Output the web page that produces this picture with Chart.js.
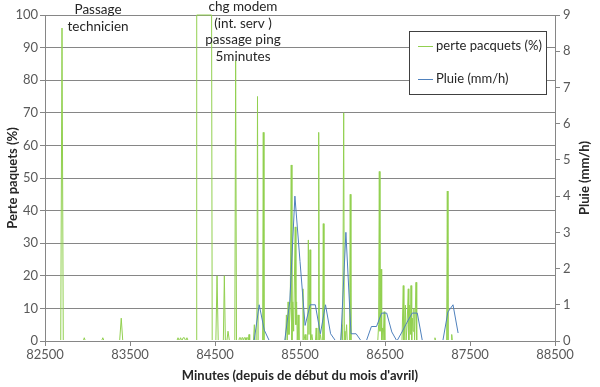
<!DOCTYPE html>
<html>
<head>
<meta charset="utf-8">
<script src="https://cdn.jsdelivr.net/npm/chart.js@4.4.0/dist/chart.umd.min.js"></script>
<style>
html,body{margin:0;padding:0;background:#fff;}
#wrap{width:600px;height:387px;position:relative;}
</style>
</head>
<body>
<div id="wrap"><canvas id="c" width="600" height="387"></canvas></div>
<script>
// ---- data ----
const xTickValues = [82500, 83500, 84500, 85500, 86500, 87500, 88500];

const lossMinutes = [
  82560,
  82685, 82700, 82715,
  82950, 82962, 82975,
  83165, 83180, 83195,
  83378, 83397, 83415,
  84050, 84065, 84080, 84095, 84110, 84125, 84140, 84155, 84170, 84185,
  84278, 84285, 84460, 84467,
  84510, 84524, 84538,
  84598, 84610, 84622,
  84640, 84653, 84670,
  84733, 84743, 84753,
  84780, 84788, 84800, 84808, 84816, 84828, 84836, 84844, 84856, 84864, 84872, 84884, 84892, 84900, 84908,
  84952, 84963, 84972,
  84992, 85000, 85008,
  85060, 85068, 85076,
  85330, 85340, 85350, 85360, 85370, 85385, 85397, 85405, 85415, 85425, 85435, 85444, 85452, 85460, 85468, 85478, 85488,
  85525, 85535, 85545, 85560, 85570,
  85590, 85598, 85606, 85618, 85626, 85640, 85650,
  85682, 85690, 85698,
  85712, 85720, 85728, 85740, 85750,
  85766, 85774, 85782,
  85980, 85994, 86002, 86014, 86022, 86029, 86036, 86048, 86056,
  86083, 86091, 86099,
  86415, 86425, 86433, 86441, 86453, 86461, 86470, 86478, 86490, 86498,
  86700, 86715, 86722, 86730, 86740, 86748, 86760, 86774, 86780, 86790, 86798, 86806, 86814, 86822, 86830, 86840, 86848, 86865, 86873,
  87080, 87088, 87096,
  87225, 87233, 87241,
  87278, 87285, 87292,
  87400
];
const lossValues = [
  0,
  0, 96, 0,
  0, 1, 0,
  0, 1, 0,
  0, 7, 0,
  0, 1, 0, 1, 0, 1, 1, 0, 1, 0,
  0, 100, 100, 0,
  0, 20, 0,
  0, 20, 0,
  0, 3, 0,
  0, 86, 0,
  0, 1, 1, 0, 1, 1, 0, 1, 1, 0, 1, 1, 0, 2, 0,
  0, 5, 0,
  0, 75, 0,
  0, 64, 0,
  0, 8, 0, 12, 2, 10, 54, 0, 12, 3, 20, 35, 5, 12, 0, 8, 0,
  0, 16, 0, 2, 0,
  0, 31, 2, 28, 0, 2, 0,
  0, 4, 0,
  0, 64, 0, 2, 0,
  0, 36, 0,
  0, 5, 0, 70, 0, 3, 0, 5, 0,
  0, 45, 0,
  0, 5, 52, 3, 22, 0, 4, 0, 9, 0,
  0, 17, 0, 4, 11, 0, 5, 16, 0, 11, 2, 17, 0, 7, 3, 10, 0, 18, 0,
  0, 1, 0,
  0, 46, 0,
  0, 2, 0,
  0
];

const rainMinutes = [
  84960, 85020, 85080, 85140, 85320, 85380, 85440, 85500, 85560, 85620, 85680,
  85740, 85800, 85860, 85920, 85980, 86040, 86100, 86160, 86220, 86280, 86340,
  86400, 86460, 86520, 86580, 86640, 86700, 86760, 86820, 86880, 86940, 87180,
  87240, 87300, 87360
];
const rainValues = [
  0, 1.0, 0.3, 0, 0, 1.1, 4.0, 2.2, 0.43, 1.0, 1.0,
  0.2, 1.0, 0.2, 0, 0, 3.0, 0.2, 0.2, 0, 0, 0.4,
  0.4, 0.77, 0.77, 0.25, 0, 0.25, 0.52, 0.77, 0.77, 0, 0,
  0.8, 1.0, 0.22
];

const annotations = [
  { x: 83124, lines: ['Passage', 'technicien'], y0: 10 },
  { x: 84829, lines: ['chg modem', '(int. serv )', 'passage ping', '5minutes'], y0: 7 }
];
const legendItems = [
  { label: 'perte pacquets (%)', color: '#92D050' },
  { label: 'Pluie (mm/h)', color: '#4F81BD' }
];

// ---- drawing ----
const FONT = 'Lato, "Open Sans", "Liberation Sans", sans-serif';
const GRID = '#868686';

const overlay = {
  id: 'overlay',
  afterDraw(chart) {
    const ctx = chart.ctx;
    const xs = chart.scales.x;
    ctx.save();
    // annotations
    ctx.fillStyle = '#262626';
    ctx.font = '13.5px ' + FONT;
    ctx.textAlign = 'center';
    ctx.textBaseline = 'middle';
    annotations.forEach(a => {
      const px = xs.getPixelForValue(a.x);
      a.lines.forEach((t, i) => ctx.fillText(t, px, a.y0 + i * 16.5));
    });
    // legend box
    const bx = 409.5, by = 31.5, bw = 137, bh = 63;
    ctx.fillStyle = '#fff';
    ctx.fillRect(bx, by, bw, bh);
    ctx.strokeStyle = '#404040';
    ctx.lineWidth = 1;
    ctx.strokeRect(bx, by, bw, bh);
    ctx.textAlign = 'left';
    ctx.font = '13px ' + FONT;
    legendItems.forEach((it, i) => {
      const yy = 46 + i * 32.5;
      ctx.strokeStyle = it.color;
      ctx.beginPath();
      ctx.moveTo(418, Math.round(yy) + 0.5);
      ctx.lineTo(433, Math.round(yy) + 0.5);
      ctx.stroke();
      ctx.fillStyle = '#262626';
      ctx.fillText(it.label, 436, yy);
    });
    // right axis title (reads bottom to top)
    ctx.save();
    ctx.translate(585, 178);
    ctx.rotate(-Math.PI / 2);
    ctx.textAlign = 'center';
    ctx.font = 'bold 13px ' + FONT;
    ctx.fillStyle = '#262626';
    ctx.fillText('Pluie (mm/h)', 0, 0);
    ctx.restore();
    ctx.restore();
  }
};

new Chart(document.getElementById('c'), {
  type: 'line',
  data: {
    datasets: [
      {
        label: legendItems[0].label,
        data: lossMinutes.map((m, i) => ({ x: m, y: lossValues[i] })),
        borderColor: legendItems[0].color,
        borderWidth: 1,
        pointRadius: 0,
        tension: 0,
        yAxisID: 'y',
        order: 1,
        clip: { left: 0, top: 1, right: 0, bottom: -1 }
      },
      {
        label: legendItems[1].label,
        data: rainMinutes.map((m, i) => ({ x: m, y: rainValues[i] })),
        borderColor: legendItems[1].color,
        borderWidth: 1,
        pointRadius: 0,
        tension: 0,
        yAxisID: 'y1',
        order: 0,
        clip: { left: 0, top: 1, right: 0, bottom: -1 }
      }
    ]
  },
  options: {
    responsive: false,
    animation: false,
    devicePixelRatio: 1,
    layout: { padding: { top: 15, left: 0, right: 0, bottom: 0 } },
    plugins: { legend: { display: false }, tooltip: { enabled: false } },
    scales: {
      x: {
        type: 'linear',
        min: 82500,
        max: 88500,
        afterBuildTicks: s => { s.ticks = xTickValues.map(v => ({ value: v })); },
        afterFit: s => { s.height = 46; },
        ticks: { color: '#595959', font: { family: FONT, size: 13 }, padding: 1, maxRotation: 0, autoSkip: false, callback: v => String(v) },
        grid: { drawOnChartArea: false, color: GRID, tickLength: 5 },
        border: { color: GRID },
        title: { display: true, text: "Minutes (depuis de début du mois d'avril)", color: '#262626', font: { family: FONT, size: 13, weight: 'bold' }, padding: { top: 0, bottom: 3 } }
      },
      y: {
        position: 'left',
        min: 0,
        max: 100,
        afterFit: s => { s.width = 45; },
        ticks: { stepSize: 10, color: '#595959', font: { family: FONT, size: 13 }, padding: 2 },
        grid: { color: GRID, tickLength: 5 },
        border: { color: GRID },
        title: { display: true, text: 'Perte paquets (%)', color: '#262626', font: { family: FONT, size: 13, weight: 'bold' }, padding: { top: 5, bottom: 0 } }
      },
      y1: {
        position: 'right',
        min: 0,
        max: 9,
        afterFit: s => { s.width = 45; },
        ticks: { stepSize: 1, color: '#595959', font: { family: FONT, size: 13 }, padding: 3 },
        grid: { drawOnChartArea: false, color: GRID, tickLength: 5 },
        border: { color: GRID }
      }
    }
  },
  plugins: [overlay]
});
</script>
</body>
</html>
